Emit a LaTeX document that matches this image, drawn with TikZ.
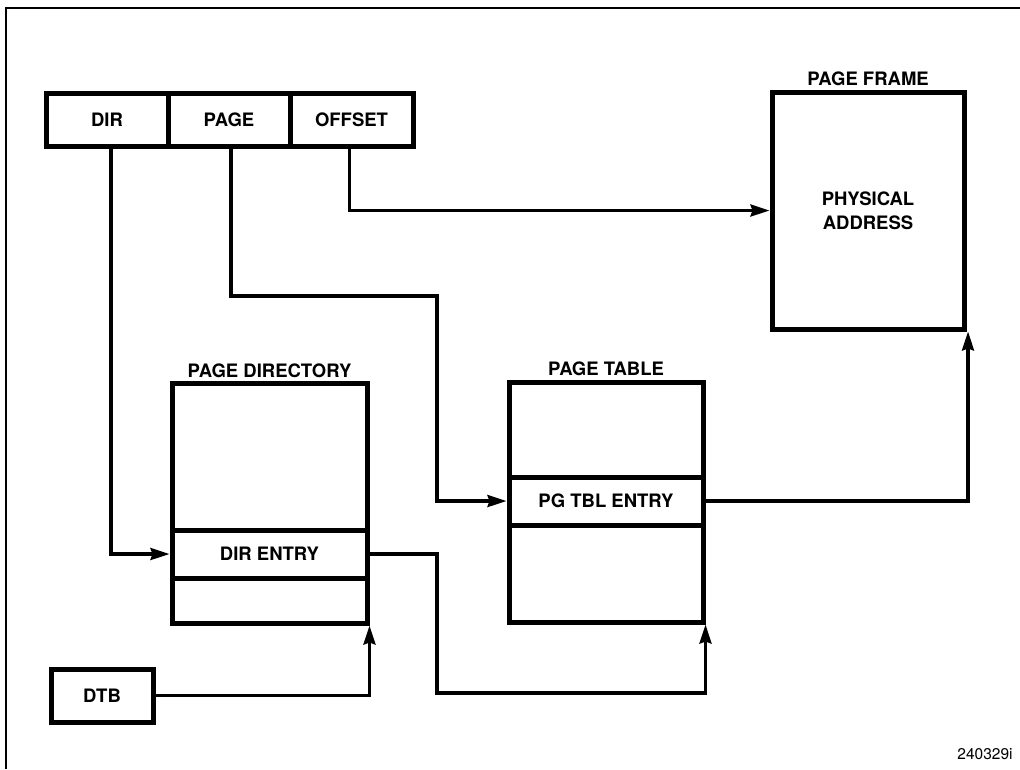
\documentclass[tikz,border=0pt]{standalone}
\usepackage{fontspec}
\setmainfont{TeX Gyre Heros}
\usetikzlibrary{arrows.meta}
\tikzset{
  box/.style={draw, line width=5pt, inner sep=0pt, align=center,
    font=\fontsize{18.5}{24}\selectfont\bfseries},
  lbl/.style={inner sep=0pt, anchor=base, font=\fontsize{18.5}{24}\selectfont\bfseries},
  conn/.style={line width=3.3pt, line join=miter},
  arr/.style={conn, -{Stealth[length=19pt,width=12pt,inset=2pt]}},
  frameline/.style={line width=2.8pt}
}
\begin{document}
\begin{tikzpicture}[x=1pt,y=-1pt]
\useasboundingbox (0,0) rectangle (1020,769);
\draw[frameline] (6,769) -- (6,8) -- (1020,8);

% linear address register
\node[box, minimum width=122pt, minimum height=53pt] (dir) at (107,119.5) {DIR};
\node[box, minimum width=122pt, minimum height=53pt] (page) at (229,119.5) {PAGE};
\node[box, minimum width=123pt, minimum height=53pt] (offset) at (351.5,119.5) {OFFSET};

% page directory
\node[box, minimum width=195pt, minimum height=240pt] (pd) at (269.5,503) {};
\node[box, minimum width=195pt, minimum height=48pt] (pdentry) at (269.5,554) {DIR ENTRY};
\node[lbl] (pdlbl) at (269.5,377) {PAGE DIRECTORY};

% page table
\node[box, minimum width=194pt, minimum height=240pt] (pt) at (606,502) {};
\node[box, minimum width=194pt, minimum height=48pt] (ptentry) at (606,501) {PG TBL ENTRY};
\node[lbl] (ptlbl) at (606,375) {PAGE TABLE};

% page frame
\node[box, minimum width=192pt, minimum height=237pt] (frame) at (868,210.5) {PHYSICAL\\ADDRESS};
\node[lbl] (frlbl) at (868,85) {PAGE FRAME};

% DTB
\node[box, minimum width=102pt, minimum height=53pt] (dtb) at (102,695.5) {DTB};

\node[inner sep=0pt, anchor=base, font=\fontsize{15.5}{18}\selectfont] (fig) at (985,759) {240329i};

% connectors
\coordinate (p1) at (437,296);
\coordinate (p2) at (437,693);
\draw[arr] ([xshift=4pt]dir.south) |- (pdentry.west);
\draw[arr] ([xshift=2pt]page.south) |- (p1) |- (ptentry.west);
\draw[arr] ([xshift=-2pt]offset.south) |- (frame.west);
\draw[arr] (ptentry.east) -| ([xshift=1.5pt]frame.south east);
\draw[arr] (pdentry.east) -| (p2) -| (pt.south east);
\draw[arr] (dtb.east) -| (pd.south east);
\end{tikzpicture}
\end{document}
